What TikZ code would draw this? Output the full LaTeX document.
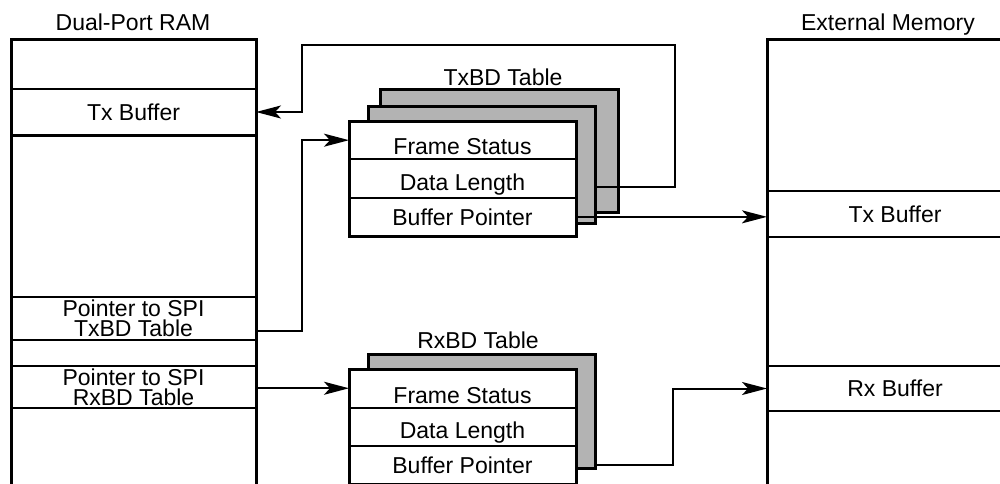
\documentclass[tikz,border=0pt]{standalone}
\usepackage{fontspec}
\setmainfont{Liberation Sans}
\usetikzlibrary{arrows.meta,calc}
\definecolor{sheetgray}{RGB}{179,179,179}
\begin{document}
\begin{tikzpicture}[x=1pt,y=-1pt,
  every node/.style={font=\fontsize{23}{20}\selectfont, inner sep=0pt, outer sep=0pt},
  row/.style={draw, line width=2pt, fill=white, align=center},
  lowtext/.style={text height=29.5pt, text depth=0pt},
  midtext/.style={text height=23.5pt, text depth=0pt},
  sheet/.style={draw, line width=3pt, fill=sheetgray},
  frame/.style={draw, line width=3pt},
  title/.style={anchor=base},
  arr/.style={line width=2pt, -{Stealth[length=25pt,width=13pt,inset=6pt]}},
  conn/.style={line width=2pt}]
\useasboundingbox (0,0) rectangle (1000,483);
\clip (0,0) rectangle (1000,483);
\fill[white] (0,0) rectangle (1000,483);

% Dual-Port RAM
\node[title] (dprT) at (133,30) {Dual-Port RAM};
\node[row, minimum width=245pt, minimum height=46pt] (dpTx) at (133.5,112) {Tx Buffer};
\node[row, minimum width=245pt, minimum height=43pt] (dpTxP) at (133.5,318.5) {Pointer to SPI\\TxBD Table};
\node[row, minimum width=245pt, minimum height=42pt] (dpRxP) at (133.5,387) {Pointer to SPI\\RxBD Table};
\draw[line width=3pt] (11,490) -- (11,39) -- (256,39) -- (256,490);
\draw[line width=3pt] (dpTx.south west) -- (dpTx.south east);

% External Memory
\node[title] (emT) at (888,30) {External Memory};
\node[row, minimum width=256pt, minimum height=46pt] (emTx) at (895,214) {Tx Buffer};
\node[row, minimum width=256pt, minimum height=45pt] (emRx) at (895,388.5) {Rx Buffer};
\draw[line width=3pt] (767,490) -- (767,39) -- (1030,39);

% TxBD table
\node[title] (txT) at (503,85) {TxBD Table};
\node[sheet, minimum width=238pt, minimum height=123pt] (txs2) at (499,150.5) {};
\node[sheet, minimum width=227pt, minimum height=117pt] (txs1) at (481.5,164.5) {};
\node[row, lowtext, minimum width=227pt, minimum height=38.33pt] (fs) at (462.5,140.17) {Frame Status};
\node[row, midtext, minimum width=227pt, minimum height=38.33pt] (dl) at (462.5,178.5) {Data Length};
\node[row, minimum width=227pt, minimum height=38.33pt] (bp) at (462.5,216.83) {Buffer Pointer};
\draw[frame] (fs.north west) rectangle (bp.south east);

% RxBD table
\node[title] (rxT) at (478,348) {RxBD Table};
\node[sheet, minimum width=227pt, minimum height=114pt] (rxs1) at (481.5,411) {};
\node[row, lowtext, minimum width=227pt, minimum height=38.5pt] (rfs) at (462.5,388.25) {Frame Status};
\node[row, midtext, minimum width=227pt, minimum height=38.5pt] (rdl) at (462.5,426.75) {Data Length};
\node[row, minimum width=227pt, minimum height=38.5pt] (rbp) at (462.5,465.25) {Buffer Pointer};
\draw[frame] (rfs.north west) rectangle (rbp.south east);

% Connectors
\draw[arr] ([yshift=-12.5pt]dpTxP.east) -| ($(fs.west)+(-47,0)$) -- (fs.west);
\draw[arr] (dpRxP.east |- rfs.west) -- (rfs.west);
\draw[arr] ([yshift=-22.5pt]txs1.east) -| (675,45) -| ($(dpTx.east)+(46,0)$) -- (dpTx.east);
\draw[arr] (bp.east) -- (bp.east -| emTx.west);
\draw[arr] (rxs1.east |- rbp.east) -| ($(emRx.west)+(-94,0)$) -- (emRx.west);
\end{tikzpicture}
\end{document}
